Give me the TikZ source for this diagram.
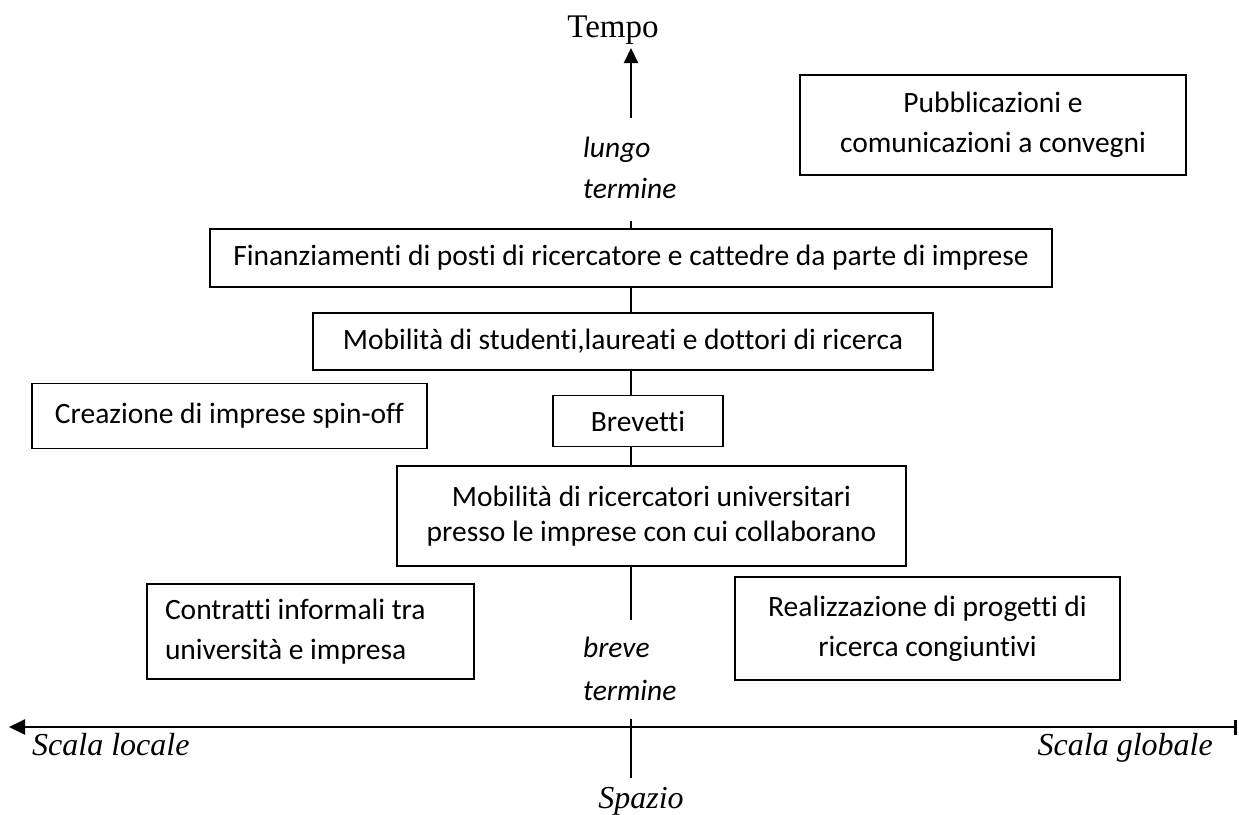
\documentclass[tikz,border=0pt]{standalone}
\usepackage{fontspec}
\setmainfont{Carlito}[Ligatures={NoCommon,NoRare}]
\newfontfamily\tnr{Liberation Serif}
\usetikzlibrary{arrows.meta}
\begin{document}
\begin{tikzpicture}[x=1pt,y=-1pt,
  box/.style={draw,line width=1.8pt,inner sep=0pt,align=center},
  bf/.style={font=\fontsize{29.5}{#1}\selectfont},
  axisline/.style={line width=2pt},
  tlabel/.style={font=\tnr\fontsize{32}{38}\selectfont\itshape,inner sep=0pt},
  ilabel/.style={font=\fontsize{29.5}{34}\selectfont\itshape,inner sep=0pt,anchor=base west}]
\useasboundingbox (0,0) rectangle (1239,814);

% boxes
\node[box,bf=40,minimum width=386pt,minimum height=100pt] (b1) at (993,125)
  {Pubblicazioni e\\comunicazioni a convegni};
\node[box,bf=34,minimum width=842pt,minimum height=58pt] (b2) at (631,258)
  {Finanziamenti di posti di ricercatore e cattedre da parte di imprese};
\node[box,bf=34,minimum width=620pt,minimum height=57pt] (b3) at (623,341.5)
  {Mobilità di studenti,laureati e dottori di ricerca};
\node[box,bf=34,minimum width=395pt,minimum height=65pt] (b4) at (229.5,416)
  {Creazione di imprese spin-off};
\node[box,bf=34,minimum width=170pt,minimum height=51pt] (b5) at (638,421)
  {Brevetti};
\node[box,bf=35,minimum width=509pt,minimum height=100pt] (b6) at (651.5,516)
  {Mobilità di ricercatori universitari\\presso le imprese con cui collaborano};
\node[box,bf=40,align=flush left,inner xsep=18pt,text width=291pt,minimum height=95pt] (b7) at (310.5,631.5)
  {Contratti informali tra\\università e impresa};
\node[box,bf=40,minimum width=385pt,minimum height=103pt] (b8) at (927.5,628.5)
  {Realizzazione di progetti di\\ricerca congiuntivi};

% italic labels on the time axis
\node[ilabel] (lg1) at (583,157) {lungo};
\node[ilabel] (lg2) at (583,198) {termine};
\node[ilabel] (br1) at (583,657) {breve};
\node[ilabel] (br2) at (583,700) {termine};

% axis labels
\node[tlabel,font=\tnr\fontsize{33}{38}\selectfont,anchor=base] (tempo) at (613,37) {Tempo};
\node[tlabel,anchor=base west] (sl) at (32,755) {Scala locale};
\node[tlabel,anchor=base east] (sg) at (1213,755) {Scala globale};
\node[tlabel,anchor=base] (sp) at (641,808) {Spazio};

% axis coordinates
\coordinate (vtop) at (631,48);
\coordinate (vup) at (631,118);
\coordinate (vlt) at (631,221);
\coordinate (vbt) at (631,620);
\coordinate (vax) at (631,719);
\coordinate (vbot) at (631,778);
\coordinate (hl) at (9,727);
\coordinate (hr) at (1237,727);

% vertical axis
\draw[axisline,-{Triangle[length=15pt,width=14pt]}] (vup) -- (vtop);
\draw[axisline] (vlt) -- (b2.north -| vtop);
\draw[axisline] (b2.south -| vtop) -- (b3.north -| vtop);
\draw[axisline] (b3.south -| vtop) -- (b5.north -| vtop);
\draw[axisline] (b5.south -| vtop) -- (b6.north -| vtop);
\draw[axisline] (b6.south -| vtop) -- (vbt);
\draw[axisline] (vax) -- (vbot);

% horizontal axis
\draw[axisline,{Triangle[length=16pt,width=15pt]}-{Bar[width=15pt,line width=3pt]}] (hl) -- (hr);
\end{tikzpicture}
\end{document}
